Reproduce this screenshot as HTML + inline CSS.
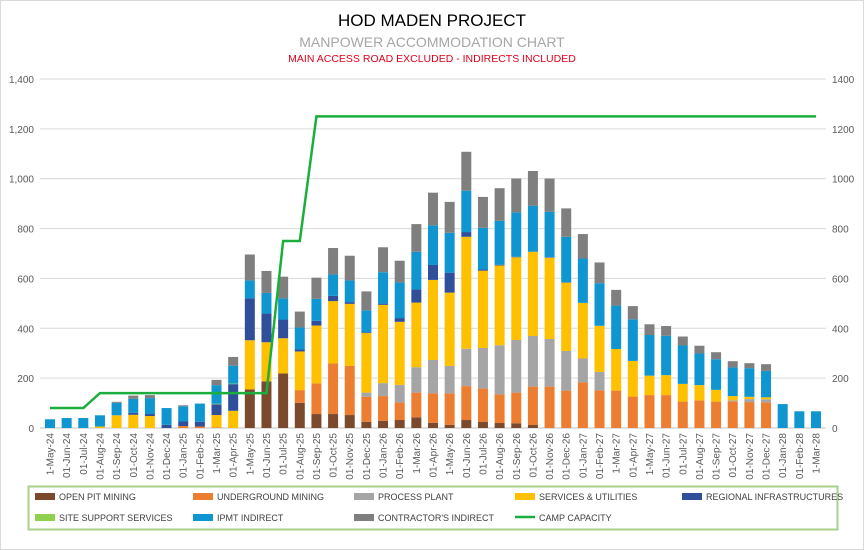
<!DOCTYPE html>
<html><head><meta charset="utf-8"><style>
body{margin:0;background:#fff;}
svg{display:block;font-family:"Liberation Sans",sans-serif;}
</style></head><body>
<svg id="chart" width="864" height="550">
<rect x="0.5" y="0.5" width="863" height="549" fill="#fff" stroke="#d9d9d9"/>
<text x="432" y="26" text-anchor="middle" font-size="17" fill="#000">HOD MADEN PROJECT</text>
<text x="432" y="47" text-anchor="middle" font-size="14" fill="#a6a6a6">MANPOWER ACCOMMODATION CHART</text>
<text x="432" y="62" text-anchor="middle" font-size="10.5" fill="#e0001b">MAIN ACCESS ROAD EXCLUDED - INDIRECTS INCLUDED</text>
<g id="grid"></g><g id="bars"></g><g id="line"></g><g id="axes"></g>
<rect x="28.5" y="486.5" width="809" height="43" fill="none" stroke="#a9d18e" stroke-width="2"/>
<g id="legend"></g>
</svg>
<script>
const categories=["1-May-24","01-Jun-24","01-Jul-24","01-Aug-24","01-Sep-24","01-Oct-24","01-Nov-24","01-Dec-24","01-Jan-25","01-Feb-25","1-Mar-25","01-Apr-25","1-May-25","01-Jun-25","01-Jul-25","01-Aug-25","01-Sep-25","01-Oct-25","01-Nov-25","01-Dec-25","01-Jan-26","01-Feb-26","1-Mar-26","01-Apr-26","1-May-26","01-Jun-26","01-Jul-26","01-Aug-26","01-Sep-26","01-Oct-26","01-Nov-26","01-Dec-26","01-Jan-27","01-Feb-27","1-Mar-27","01-Apr-27","1-May-27","01-Jun-27","01-Jul-27","01-Aug-27","01-Sep-27","01-Oct-27","01-Nov-27","01-Dec-27","01-Jan-28","01-Feb-28","1-Mar-28"];
const openPit=[0,0,0,0,0,0,0,0,0,0,0,0,155,187,219,101,56,56,52,25,29,32,43,21,13,32,24,20,19,12,0,0,0,0,0,0,0,0,0,0,0,0,0,0,0,0,0];
const underground=[0,0,0,0,0,0,0,0,8,6,3,0,0,0,0,51,123,203,197,100,99,70,99,118,126,136,134,115,123,154,166,150,183,151,150,126,132,132,106,111,106,107,104,103,0,0,0];
const processPlant=[0,0,0,0,0,0,0,0,0,0,0,0,0,0,0,0,0,0,0,17,52,71,102,134,110,150,163,197,211,203,191,159,96,74,0,0,0,0,0,0,0,4,12,12,0,0,0];
const services=[0,0,0,6,51,53,48,0,0,0,49,69,197,157,141,155,232,250,249,239,314,253,259,321,294,449,310,320,332,338,326,274,223,185,167,143,78,80,71,61,47,17,9,8,0,0,0];
const regional=[0,0,0,0,0,8,8,13,18,19,43,107,168,115,75,8,19,21,7,3,5,15,53,60,80,19,5,3,2,0,2,2,0,0,0,0,0,0,0,0,0,0,0,0,0,0,0];
const siteSupport=[0,0,0,0,0,0,0,0,0,0,2,2,0,0,0,0,0,0,0,0,0,0,0,0,0,0,0,0,0,0,0,0,0,0,0,0,0,0,0,0,0,0,0,0,0,0,0];
const ipmt=[35,40,40,45,50,56,64,67,61,73,75,72,72,83,85,88,88,86,87,88,126,143,151,159,160,166,167,176,178,185,182,182,178,171,174,167,163,158,154,127,123,115,115,106,96,67,67];
const contractor=[0,0,0,0,4,13,12,0,4,0,21,35,104,88,87,64,85,106,99,76,100,87,111,131,124,156,124,131,136,139,134,114,98,83,63,53,43,39,36,31,28,25,20,27,0,0,0];
const campCapacity=[80,80,80,140,140,140,140,140,140,140,140,140,140,140,750,750,1250,1250,1250,1250,1250,1250,1250,1250,1250,1250,1250,1250,1250,1250,1250,1250,1250,1250,1250,1250,1250,1250,1250,1250,1250,1250,1250,1250,1250,1250,1250];
const leftTicks=["0","200","400","600","800","1,000","1,200","1,400"];
const rightTicks=["0","200","400","600","800","1000","1200","1400"];
const tickValues=[0,200,400,600,800,1000,1200,1400];
const seriesNames=["OPEN PIT MINING","UNDERGROUND MINING","PROCESS PLANT","SERVICES & UTILITIES","REGIONAL INFRASTRUCTURES","SITE SUPPORT SERVICES","IPMT INDIRECT","CONTRACTOR'S INDIRECT"];
const series=[openPit,underground,processPlant,services,regional,siteSupport,ipmt,contractor];
const colors=["#7b4a2d","#ed7d31","#a5a5a5","#ffc000","#2f4f9a","#8fd14f","#0f96d0","#7f7f7f"];
const NS="http://www.w3.org/2000/svg";
const x0=50,x1=816,yBase=428,yTop=79;
function xs(i){return x0+i*(x1-x0)/(categories.length-1);}
function ys(v){return yBase-v*(yBase-yTop)/1400;}
function mk(tag,attrs,parent){const e=document.createElementNS(NS,tag);for(const k in attrs)e.setAttribute(k,attrs[k]);parent.appendChild(e);return e;}
const grid=document.getElementById('grid'),axes=document.getElementById('axes');
tickValues.forEach((v,k)=>{
  const g=mk('line',{x1:40,x2:826,y1:ys(v),y2:ys(v),stroke:k==0?'#bfbfbf':'#d9d9d9','stroke-width':1},grid);
  
  
  const t=mk('text',{x:34,y:ys(v)+4,'text-anchor':'end','font-size':10,fill:'#595959'},axes);
  t.textContent=leftTicks[k];
  
  
  const r=mk('text',{x:832,y:ys(v)+4,'text-anchor':'start','font-size':10,fill:'#595959'},axes);
  r.textContent=rightTicks[k];
  
  
});
const bars=document.getElementById('bars');
categories.forEach((c,i)=>{
  let acc=0;
  series.forEach((s,j)=>{
    const v=s[i];if(v<=0)return;
    const r=mk('rect',{x:xs(i)-5,y:ys(acc+v),width:10,height:ys(acc)-ys(acc+v),fill:colors[j]},bars);
    
    
    acc+=v;
  });
  const t=mk('text',{x:0,y:0,'text-anchor':'end','font-size':10,fill:'#595959',transform:`translate(${xs(i)+3.5},433) rotate(-90)`},axes);
  t.textContent=c;
  
  
});
const pts=campCapacity.map((v,i)=>xs(i)+','+ys(v)).join(' ');
const pl=mk('polyline',{points:pts,fill:'none',stroke:'#1aaf3c','stroke-width':2.5},document.getElementById('line'));


const leg=document.getElementById('legend');
const lx=[35,193,354,515,682];
const items=seriesNames.concat(["CAMP CAPACITY"]);
items.forEach((n,k)=>{
  const row=Math.floor(k/5),col=k%5,x=lx[col],y=row?517:496;
  let sw;
  if(k<8){sw=mk('rect',{x:x,y:y-3,width:20,height:7,fill:colors[k]},leg);}
  else{sw=mk('line',{x1:x,x2:x+20,y1:y,y2:y,stroke:'#1aaf3c','stroke-width':2.5},leg);}
  
  
  const t=mk('text',{x:x+24,y:y+4,'font-size':9,fill:'#404040'},leg);
  t.textContent=n;
  
  
});
</script>
</body></html>
